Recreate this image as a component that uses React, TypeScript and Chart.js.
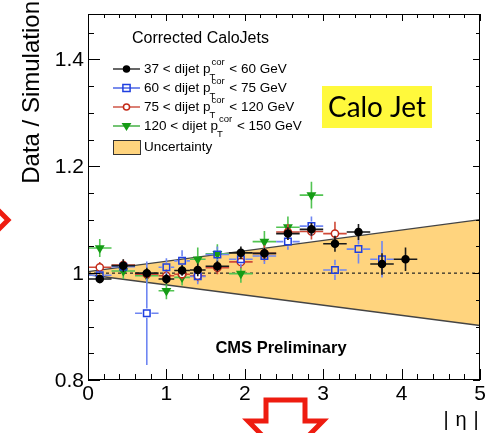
import React, { useEffect, useRef } from "react";
import { Chart, registerables } from "chart.js";

Chart.register(...registerables);

// ---- data ----
const etaCenters = [0.15, 0.45, 0.75, 1.0, 1.2, 1.4, 1.65, 1.95, 2.25, 2.55, 2.85, 3.15, 3.45, 3.75, 4.05];
const etaHalfWidths = [0.15, 0.15, 0.15, 0.1, 0.1, 0.1, 0.15, 0.15, 0.15, 0.15, 0.15, 0.15, 0.15, 0.15, 0.15];

const ratio37to60 = [0.989, 1.014, 1.0, 0.989, 1.005, 1.006, 1.013, 1.038, 1.037, 1.074, 1.082, 1.055, 1.077, 1.017, 1.026];
const err37to60 = [0.008, 0.012, 0.01, 0.01, 0.01, 0.012, 0.01, 0.012, 0.01, 0.012, 0.012, 0.015, 0.015, 0.02, 0.022];

const ratio60to75 = [0.996, 1.012, 0.925, 1.011, 1.023, 0.994, 1.035, 1.026, 1.032, 1.059, 1.088, 1.006, 1.045, 1.026];
const err60to75 = [0.01, 0.01, 0.097, 0.017, 0.02, 0.015, 0.015, 0.015, 0.015, 0.015, 0.018, 0.019, 0.027, 0.034];

const ratio75to120 = [1.011, 1.015, 0.998, 0.995, 0.998, 0.995, 1.01, 1.021, 1.037, 1.077, 1.078, 1.074];
const err75to120 = [0.01, 0.01, 0.01, 0.012, 0.01, 0.012, 0.012, 0.012, 0.015, 0.015, 0.015, 0.022];

const ratio120to150 = [1.047, 1.004, 0.995, 0.967, 0.992, 1.026, 1.036, 0.999, 1.059, 1.086, 1.146];
const err120to150 = [0.017, 0.015, 0.015, 0.016, 0.015, 0.022, 0.018, 0.017, 0.02, 0.02, 0.025];

const bandEta = [0, 5];
const bandUpper = [1.003, 1.1];
const bandLower = [0.997, 0.902];
const referenceLine = [1, 1];

const xMajorTicks = [0, 1, 2, 3, 4, 5];
const xTickLabels = ["0", "1", "2", "3", "4", "5"];
const yMajorTicks = [0.8, 1.0, 1.2, 1.4];
const yTickLabels = ["0.8", "1", "1.2", "1.4"];

const legendTitle = "Corrected CaloJets";
const seriesLow = ["37", "60", "75", "120"];
const seriesHigh = ["60", "75", "120", "150"];
const uncertaintyLabel = "Uncertainty";

const FONT = "'Liberation Sans', Arial, Helvetica, sans-serif";
const BAND_COLOR = "#FFD47E";

type SeriesStyle = {
  marker: string;
  color: string;
  errColor: string;
  fill: string;
  radius: number;
  rotation: number;
  gap: number;
};

const styles: SeriesStyle[] = [
  { marker: "circle", color: "#000000", errColor: "#1a1a1a", fill: "#000000", radius: 3.5, rotation: 0, gap: 0 },
  { marker: "rect", color: "#1f3fe0", errColor: "#6f86f2", fill: "rgba(0,0,0,0)", radius: 4.6, rotation: 0, gap: 4.6 },
  { marker: "circle", color: "#c32a18", errColor: "#cf4a38", fill: "#ffffff", radius: 3.6, rotation: 0, gap: 3.6 },
  { marker: "triangle", color: "#169c16", errColor: "#52c452", fill: "#169c16", radius: 4.2, rotation: 180, gap: 0 },
];

const seriesValues = [ratio37to60, ratio60to75, ratio75to120, ratio120to150];
const seriesErrors = [err37to60, err60to75, err75to120, err120to150];

function drawMarker(ctx: CanvasRenderingContext2D, st: SeriesStyle, x: number, y: number) {
  ctx.save();
  ctx.lineWidth = 1.5;
  ctx.strokeStyle = st.color;
  ctx.fillStyle = st.fill;
  ctx.beginPath();
  if (st.marker === "circle") {
    ctx.arc(x, y, st.radius, 0, Math.PI * 2);
  } else if (st.marker === "rect") {
    const r = st.radius * 0.92;
    ctx.rect(x - r, y - r, 2 * r, 2 * r);
  } else {
    const r = st.radius;
    ctx.moveTo(x - r, y - r * 0.6);
    ctx.lineTo(x + r, y - r * 0.6);
    ctx.lineTo(x, y + r);
    ctx.closePath();
  }
  ctx.fill();
  ctx.stroke();
  ctx.restore();
}

const errorBarPlugin = {
  id: "errorBars",
  beforeDatasetDraw(chart: any, args: any) {
    const ds = chart.data.datasets[args.index];
    if (!ds.errY) return;
    const ctx: CanvasRenderingContext2D = chart.ctx;
    const xs = chart.scales.x;
    const ys = chart.scales.y;
    ctx.save();
    ctx.strokeStyle = ds.errColor;
    ctx.lineWidth = 1.6;
    ds.data.forEach((p: any, i: number) => {
      const px = xs.getPixelForValue(p.x);
      const py = ys.getPixelForValue(p.y);
      const xl = xs.getPixelForValue(p.x - ds.errX[i]);
      const xr = xs.getPixelForValue(p.x + ds.errX[i]);
      const yt = ys.getPixelForValue(p.y + ds.errY[i]);
      const yb = ys.getPixelForValue(p.y - ds.errY[i]);
      const g = ds.gap;
      ctx.beginPath();
      ctx.moveTo(xl, py);
      ctx.lineTo(px - g, py);
      ctx.moveTo(px + g, py);
      ctx.lineTo(xr, py);
      if (yt < py - g) {
        ctx.moveTo(px, yt);
        ctx.lineTo(px, py - g);
      }
      if (yb > py + g) {
        ctx.moveTo(px, py + g);
        ctx.lineTo(px, yb);
      }
      ctx.stroke();
    });
    ctx.restore();
  },
};

const decorPlugin = {
  id: "decor",
  afterDraw(chart: any) {
    const ctx: CanvasRenderingContext2D = chart.ctx;
    const { left, right, top, bottom } = chart.chartArea;
    const xs = chart.scales.x;
    const ys = chart.scales.y;
    ctx.save();

    // frame
    ctx.strokeStyle = "#000";
    ctx.lineWidth = 1;
    ctx.strokeRect(left + 0.5, top + 0.5, right - left - 1, bottom - top - 1);

    // x ticks
    ctx.beginPath();
    for (let k = 0; k <= 25; k++) {
      const v = k * 0.2;
      const major = k % 5 === 0;
      const px = Math.round(xs.getPixelForValue(v)) + 0.5;
      const lb = major ? 11 : 6;
      const lt = major ? 7 : 4;
      ctx.moveTo(px, bottom);
      ctx.lineTo(px, bottom - lb);
      ctx.moveTo(px, top);
      ctx.lineTo(px, top + lt);
    }
    // y ticks
    for (let k = 0; k <= 13; k++) {
      const v = 0.8 + k * 0.05;
      if (v > ys.max) break;
      const major = k % 4 === 0;
      const py = Math.round(ys.getPixelForValue(v)) + 0.5;
      const ll = major ? 12 : 6;
      const lr = major ? 7 : 4;
      ctx.moveTo(left, py);
      ctx.lineTo(left + ll, py);
      ctx.moveTo(right, py);
      ctx.lineTo(right - lr, py);
    }
    ctx.stroke();

    // tick labels
    ctx.fillStyle = "#000";
    ctx.font = `21px ${FONT}`;
    ctx.textAlign = "center";
    ctx.textBaseline = "middle";
    xMajorTicks.forEach((v, i) => {
      ctx.fillText(xTickLabels[i], xs.getPixelForValue(v), bottom + 14);
    });
    ctx.textAlign = "right";
    yMajorTicks.forEach((v, i) => {
      ctx.fillText(yTickLabels[i], left - 4, ys.getPixelForValue(v) + 1);
    });

    // axis titles
    ctx.save();
    ctx.translate(39, 1);
    ctx.rotate(-Math.PI / 2);
    ctx.font = `24px ${FONT}`;
    ctx.textAlign = "right";
    ctx.textBaseline = "alphabetic";
    ctx.fillText("Data / Simulation", 0, 0);
    ctx.restore();

    ctx.font = `20px ${FONT}`;
    ctx.textAlign = "center";
    ctx.textBaseline = "alphabetic";
    ctx.fillText("|", 446, 426);
    ctx.fillText("η", 461, 426);
    ctx.fillText("|", 476, 426);

    // legend
    ctx.textAlign = "left";
    ctx.textBaseline = "middle";
    ctx.font = `16px ${FONT}`;
    ctx.fillText(legendTitle, 132, 39);
    const rows = [69, 88, 107, 126];
    styles.forEach((st, i) => {
      const y = rows[i];
      ctx.strokeStyle = st.color;
      ctx.lineWidth = 1.2;
      ctx.beginPath();
      ctx.moveTo(113, y);
      ctx.lineTo(140, y);
      ctx.stroke();
      drawMarker(ctx, { ...st, radius: st.radius * 0.85 }, 126.5, y);
      ctx.fillStyle = "#000";
      ctx.font = `13.5px ${FONT}`;
      const pre = `${seriesLow[i]} < dijet p`;
      ctx.fillText(pre, 144, y);
      const w = ctx.measureText(pre).width;
      ctx.font = `9.5px ${FONT}`;
      const wc = ctx.measureText("cor").width;
      ctx.fillText("cor", 144 + w + 1, y - 7);
      ctx.fillText("T", 144 + w - 1, y + 8);
      ctx.font = `13.5px ${FONT}`;
      ctx.fillText(` < ${seriesHigh[i]} GeV`, 144 + w + wc + 2, y);
    });
    ctx.fillStyle = BAND_COLOR;
    ctx.fillRect(113, 140, 27, 14);
    ctx.strokeStyle = "#333";
    ctx.lineWidth = 1;
    ctx.strokeRect(113.5, 140.5, 27, 14);
    ctx.fillStyle = "#000";
    ctx.font = `13.5px ${FONT}`;
    ctx.fillText(uncertaintyLabel, 144, 147);

    // CMS Preliminary
    ctx.font = `bold 16.5px ${FONT}`;
    ctx.textAlign = "center";
    ctx.fillText("CMS Preliminary", 281, 348);

    // Calo Jet box
    ctx.fillStyle = "#FFF93C";
    ctx.fillRect(322, 86, 110, 42);
    ctx.fillStyle = "#000";
    ctx.font = `29px Lato, 'DejaVu Sans', sans-serif`;
    ctx.textAlign = "center";
    ctx.textBaseline = "middle";
    ctx.fillText("Calo Jet", 377, 108, 98);

    // red arrows (annotations)
    ctx.strokeStyle = "#ee1c10";
    ctx.lineWidth = 5;
    ctx.lineJoin = "miter";
    ctx.beginPath();
    ctx.moveTo(-6, 206);
    ctx.lineTo(8, 220);
    ctx.lineTo(-6, 234);
    ctx.stroke();
    ctx.beginPath();
    ctx.moveTo(266, 421);
    ctx.lineTo(266, 400);
    ctx.lineTo(305, 400);
    ctx.lineTo(305, 421);
    ctx.lineTo(323, 421);
    ctx.lineTo(285.5, 459);
    ctx.lineTo(248, 421);
    ctx.closePath();
    ctx.stroke();

    ctx.restore();
  },
};

export default function App() {
  const ref = useRef<HTMLCanvasElement>(null);
  useEffect(() => {
    document.body.style.margin = "0";
    if (!ref.current) return;
    const markerSets = seriesValues.map((vals, s) => {
      const st = styles[s];
      return {
        label: `series${s}`,
        data: vals.map((v, i) => ({ x: etaCenters[i], y: v })),
        errX: vals.map((_, i) => etaHalfWidths[i]),
        errY: seriesErrors[s],
        errColor: st.errColor,
        gap: st.gap,
        showLine: false,
        pointStyle: st.marker,
        pointRadius: st.radius,
        pointRotation: st.rotation,
        pointBackgroundColor: st.fill,
        pointBorderColor: st.color,
        pointBorderWidth: 1.5,
        fill: false,
      } as any;
    });
    const chart = new Chart(ref.current, {
      type: "line",
      data: {
        datasets: [
          ...markerSets,
          {
            label: "ref",
            data: bandEta.map((x, i) => ({ x, y: referenceLine[i] })),
            borderColor: "#222",
            borderWidth: 1.2,
            borderDash: [3, 3],
            pointRadius: 0,
            fill: false,
          } as any,
          {
            label: "bandLower",
            data: bandEta.map((x, i) => ({ x, y: bandLower[i] })),
            borderColor: "#444",
            borderWidth: 1.3,
            pointRadius: 0,
            fill: false,
          } as any,
          {
            label: "bandUpper",
            data: bandEta.map((x, i) => ({ x, y: bandUpper[i] })),
            borderColor: "#444",
            borderWidth: 1.3,
            backgroundColor: BAND_COLOR,
            pointRadius: 0,
            fill: "-1",
          } as any,
        ],
      },
      options: {
        responsive: false,
        animation: false,
        layout: { padding: { left: 88, right: 8, top: 14, bottom: 53 } },
        plugins: { legend: { display: false }, tooltip: { enabled: false } },
        scales: {
          x: { type: "linear", min: 0, max: 5, display: false },
          y: { type: "linear", min: 0.8, max: 1.485, display: false },
        },
      },
      plugins: [errorBarPlugin, decorPlugin],
    });
    return () => chart.destroy();
  }, []);
  return (
    <div style={{ width: 488, height: 433, background: "#fff" }}>
      <canvas ref={ref} width={488} height={433} style={{ display: "block" }} />
    </div>
  );
}
